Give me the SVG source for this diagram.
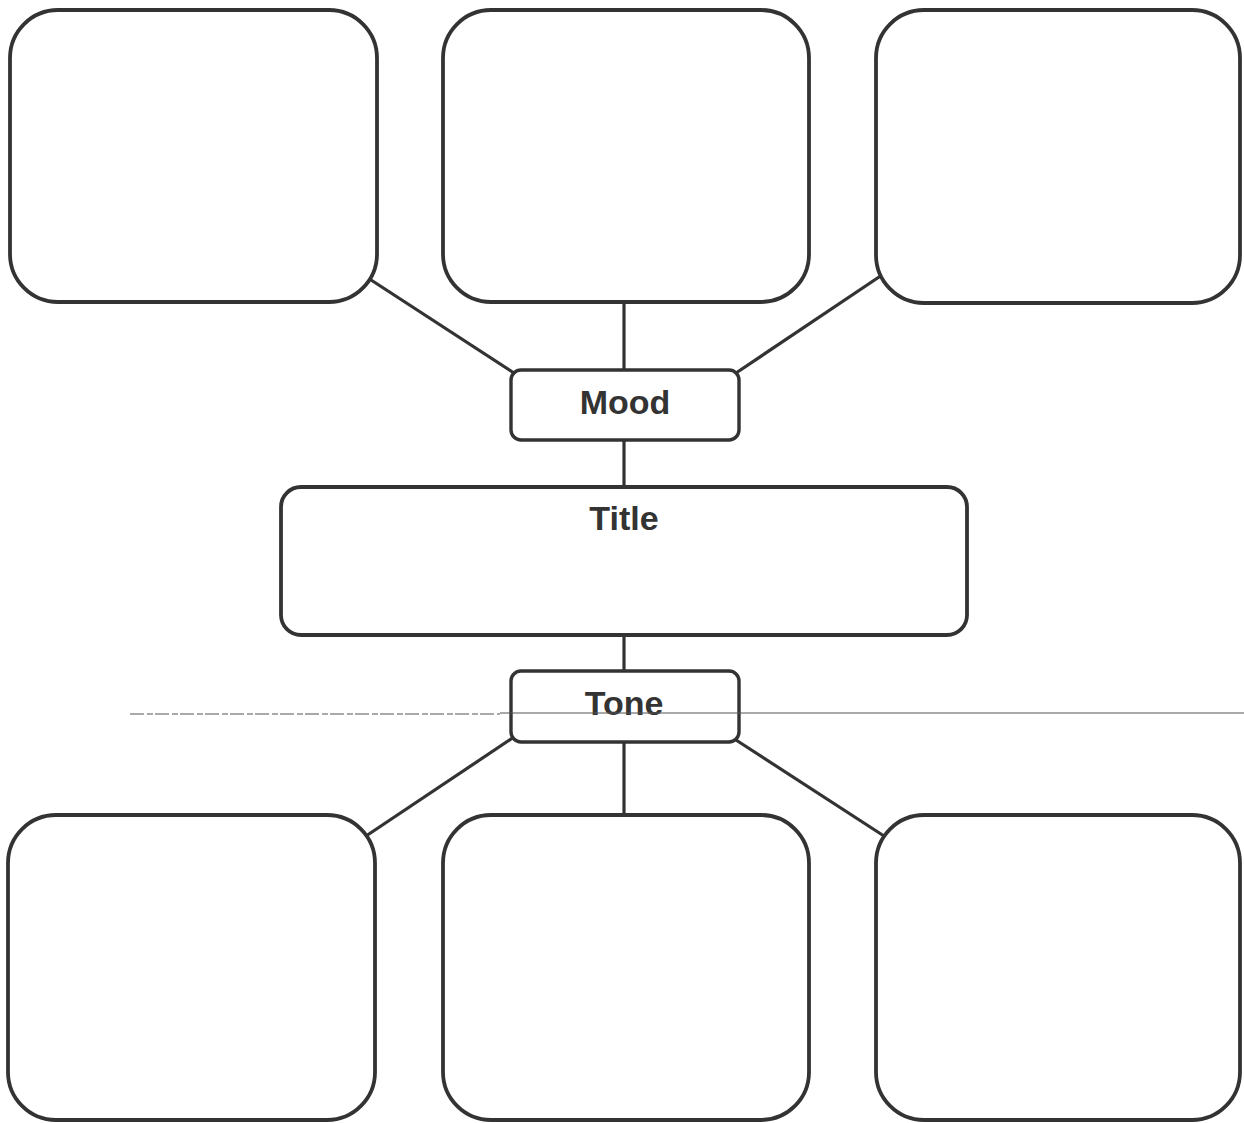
<svg xmlns="http://www.w3.org/2000/svg" width="1244" height="1123" viewBox="0 0 1244 1123">
<style>
.box{fill:#fff;stroke:#333;stroke-width:3.8}
.lbl{fill:#fff;stroke:#333;stroke-width:3.4}
.conn{stroke:#333;stroke-width:3.2;fill:none}
.t{font-family:"Liberation Sans",Arial,sans-serif;font-weight:bold;font-size:34px;fill:#333;text-anchor:middle}
.scan{stroke:#555;stroke-width:1.2;fill:none}
</style>
<rect width="1244" height="1123" fill="#fff"/>
<g id="connectors">
<line class="conn" x1="368" y1="278" x2="514" y2="373"/>
<line class="conn" x1="624" y1="302" x2="624" y2="371"/>
<line class="conn" x1="882" y1="275" x2="736" y2="373"/>
<line class="conn" x1="624" y1="440" x2="624" y2="488"/>
<line class="conn" x1="624" y1="635" x2="624" y2="671"/>
<line class="conn" x1="514" y1="737" x2="366" y2="836"/>
<line class="conn" x1="624" y1="742" x2="624" y2="816"/>
<line class="conn" x1="736" y1="740" x2="884" y2="836"/>
</g>
<g id="box-top-left"><rect class="box" x="10" y="10" width="367" height="292" rx="48"/></g>
<g id="box-top-middle"><rect class="box" x="443" y="10" width="366" height="292" rx="48"/></g>
<g id="box-top-right"><rect class="box" x="876" y="10" width="364" height="293" rx="48"/></g>
<g id="mood"><rect class="lbl" x="511" y="370" width="228" height="70" rx="10"/><text class="t" x="625" y="414">Mood</text></g>
<g id="title"><rect class="box" x="281" y="487" width="686" height="148" rx="20"/><text class="t" x="624" y="530">Title</text></g>
<g id="tone"><rect class="lbl" x="511" y="671" width="228" height="71" rx="10"/><text class="t" x="624" y="715">Tone</text></g>
<g id="box-bottom-left"><rect class="box" x="8" y="815" width="367" height="305" rx="48"/></g>
<g id="box-bottom-middle"><rect class="box" x="443" y="815" width="366" height="305" rx="48"/></g>
<g id="box-bottom-right"><rect class="box" x="876" y="815" width="364" height="305" rx="48"/></g>
<path class="scan" d="M130 714 H500" stroke-dasharray="14 3 6 2"/>
<path class="scan" d="M500 713 H1244"/>
</svg>
